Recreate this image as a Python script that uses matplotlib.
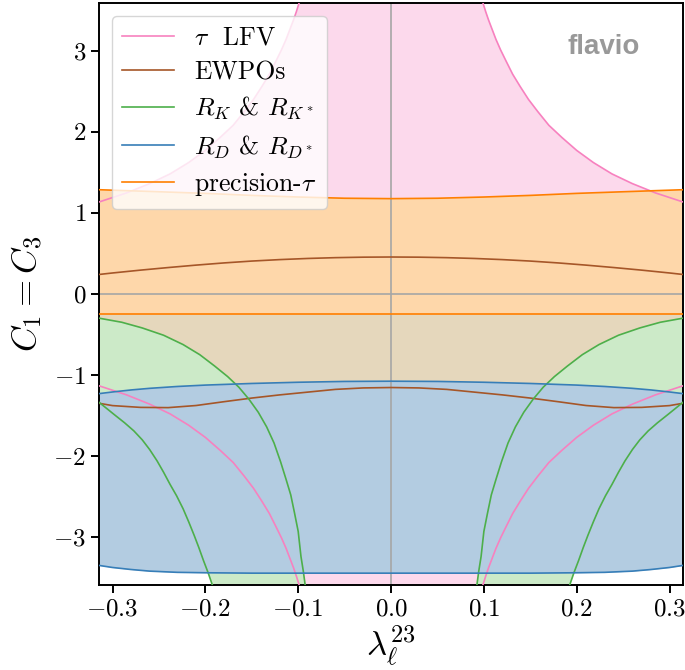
import numpy as np
import matplotlib
matplotlib.use("Agg")
import matplotlib.pyplot as plt
from matplotlib import ticker

plt.rcParams['font.family'] = 'serif'
plt.rcParams['font.serif'] = ['cmr10', 'DejaVu Serif']
plt.rcParams['mathtext.fontset'] = 'cm'
plt.rcParams['axes.formatter.use_mathtext'] = True

# tau LFV boundary |C| vs |lambda| (symmetric in both axes)
lfv_x = [0.099, 0.102, 0.105, 0.109, 0.113, 0.118, 0.124, 0.131, 0.139, 0.148, 0.158, 0.17,
         0.184, 0.2, 0.218, 0.238, 0.26, 0.285, 0.3142]
lfv_y = [3.59, 3.48, 3.38, 3.26, 3.14, 3.01, 2.87, 2.71, 2.56, 2.40, 2.25, 2.08,
         1.93, 1.77, 1.62, 1.48, 1.36, 1.245, 1.135]

# EWPOs band (symmetric in lambda)
ew_x = [0.0, 0.03, 0.06, 0.09, 0.12, 0.15, 0.18, 0.21, 0.24, 0.27, 0.3, 0.3142]
ew_up = [0.455, 0.453, 0.447, 0.437, 0.423, 0.405, 0.382, 0.355, 0.325, 0.293, 0.258, 0.24]
ew_lo = [-1.155, -1.16, -1.178, -1.212, -1.246, -1.285, -1.33, -1.377, -1.403, -1.40, -1.378, -1.35]

# R_K & R_K* : outer and inner edges of the allowed band (right half, mirrored)
rk_out_x = [0.0925, 0.0945, 0.097, 0.1, 0.104, 0.108, 0.113, 0.119, 0.126, 0.134, 0.143, 0.153,
            0.164, 0.176, 0.19, 0.206, 0.224, 0.245, 0.268, 0.29, 0.3142]
rk_out_y = [-3.59, -3.42, -3.24, -2.93, -2.70, -2.48, -2.29, -2.07, -1.84, -1.64, -1.46, -1.30,
            -1.15, -1.02, -0.89, -0.75, -0.625, -0.51, -0.42, -0.35, -0.30]
rk_in_x = [0.1925, 0.197, 0.202, 0.207, 0.212, 0.218, 0.224, 0.231, 0.238, 0.245, 0.252, 0.26,
           0.268, 0.277, 0.287, 0.298, 0.3142]
rk_in_y = [-3.59, -3.44, -3.29, -3.13, -2.98, -2.81, -2.65, -2.49, -2.35, -2.20, -2.06, -1.92,
           -1.80, -1.69, -1.59, -1.49, -1.34]

# R_D & R_D* band
rd_x = [0.0, 0.05, 0.1, 0.15, 0.2, 0.23, 0.26, 0.28, 0.3, 0.3142]
rd_up = [-1.077, -1.08, -1.09, -1.105, -1.125, -1.142, -1.165, -1.185, -1.21, -1.23]
rd_lo = [-3.445, -3.445, -3.445, -3.445, -3.44, -3.435, -3.42, -3.40, -3.375, -3.35]

# precision-tau band
pt_x = [0.0, 0.05, 0.1, 0.15, 0.2, 0.25, 0.3142]
pt_up = [1.175, 1.18, 1.195, 1.215, 1.24, 1.26, 1.285]
pt_lo = [-0.25, -0.25, -0.25, -0.25, -0.25, -0.25, -0.25]

labels = [r'$\tau$  LFV', 'EWPOs', r'$R_K$ & $R_{K^*}$', r'$R_D$ & $R_{D^*}$', r'precision-$\tau$']
colors = ['#f781bf', '#a65628', '#4daf4a', '#377eb8', '#ff7f00']
fills = ['#fcd9ec', '#e5d7bc', '#cceac8', '#b3cce1', '#fed7aa']


def sym(xs, ys):
    xs = np.asarray(xs)
    ys = np.asarray(ys)
    return np.concatenate([-xs[::-1], xs]), np.concatenate([ys[::-1], ys])


fig = plt.figure(figsize=(6.85, 6.7), dpi=100)
ax = fig.add_axes([0.145, 0.127, 0.8517, 0.8687])

lw = 1.2

# tau LFV
lx, ly = sym(lfv_x, lfv_y)
ax.fill_between(lx, -ly, ly, color=fills[0], lw=0, zorder=1)
xa = np.asarray(lfv_x)
ya = np.asarray(lfv_y)
for sx in (-1, 1):
    for sy in (-1, 1):
        ax.plot(sx * xa, sy * ya, color=colors[0], lw=lw, zorder=3)

# EWPOs
ex, eu = sym(ew_x, ew_up)
_, el = sym(ew_x, ew_lo)
ax.fill_between(ex, el, eu, color=fills[1], lw=0, zorder=1.1)
ax.plot(ex, eu, color=colors[1], lw=lw, zorder=3)
ax.plot(ex, el, color=colors[1], lw=lw, zorder=3)

# precision-tau
px, pu = sym(pt_x, pt_up)
_, pl = sym(pt_x, pt_lo)
ax.fill_between(px, pl, pu, color=fills[4], lw=0, zorder=1.2)
ax.plot(px, pu, color=colors[4], lw=lw, zorder=3)
ax.plot(px, pl, color=colors[4], lw=lw, zorder=3)

# R_K
for s in (-1, 1):
    gx = np.concatenate([s * np.asarray(rk_out_x), s * np.asarray(rk_in_x)[::-1]])
    gy = np.concatenate([rk_out_y, rk_in_y[::-1]])
    ax.fill(gx, gy, color=fills[2], lw=0, zorder=1.3)
    ax.plot(s * np.asarray(rk_out_x), rk_out_y, color=colors[2], lw=lw, zorder=3)
    ax.plot(s * np.asarray(rk_in_x), rk_in_y, color=colors[2], lw=lw, zorder=3)

# R_D
dx, du = sym(rd_x, rd_up)
_, dl = sym(rd_x, rd_lo)
ax.fill_between(dx, dl, du, color=fills[3], lw=0, zorder=1.4)
ax.plot(dx, du, color=colors[3], lw=lw, zorder=3)
ax.plot(dx, dl, color=colors[3], lw=lw, zorder=3)

ax.axhline(0, color='#a6a6a6', lw=1.2, zorder=2)
ax.axvline(0, color='#a6a6a6', lw=1.2, zorder=2)

ax.set_xlim(-0.3142, 0.3142)
ax.set_ylim(-3.59, 3.59)
ax.xaxis.set_major_locator(ticker.MultipleLocator(0.1))
ax.yaxis.set_major_locator(ticker.MultipleLocator(1))
ax.xaxis.set_major_formatter(ticker.FuncFormatter(lambda v, p: '$%.1f$' % (0.0 if abs(v) < 1e-9 else v)))
ax.yaxis.set_major_formatter(ticker.FuncFormatter(lambda v, p: '$%d$' % round(v)))
ax.tick_params(labelsize=18, length=6, width=1.4, direction='out')
for sp in ax.spines.values():
    sp.set_linewidth(1.4)

ax.set_xlabel(r'$\lambda_\ell^{23}$', fontsize=25, labelpad=2)
ax.set_ylabel(r'$C_1 = C_3$', fontsize=25, labelpad=6)

handles = [plt.Line2D([], [], color=c, lw=lw) for c in colors]
ax.legend(handles, labels, loc='upper left', fontsize=18.5, labelspacing=0.42)

ax.text(0.865, 0.924, 'flavio', transform=ax.transAxes, ha='center', va='center',
        fontsize=20, fontweight='bold', color='#999999', family='Liberation Sans')

fig.savefig('out.png', dpi=100)
